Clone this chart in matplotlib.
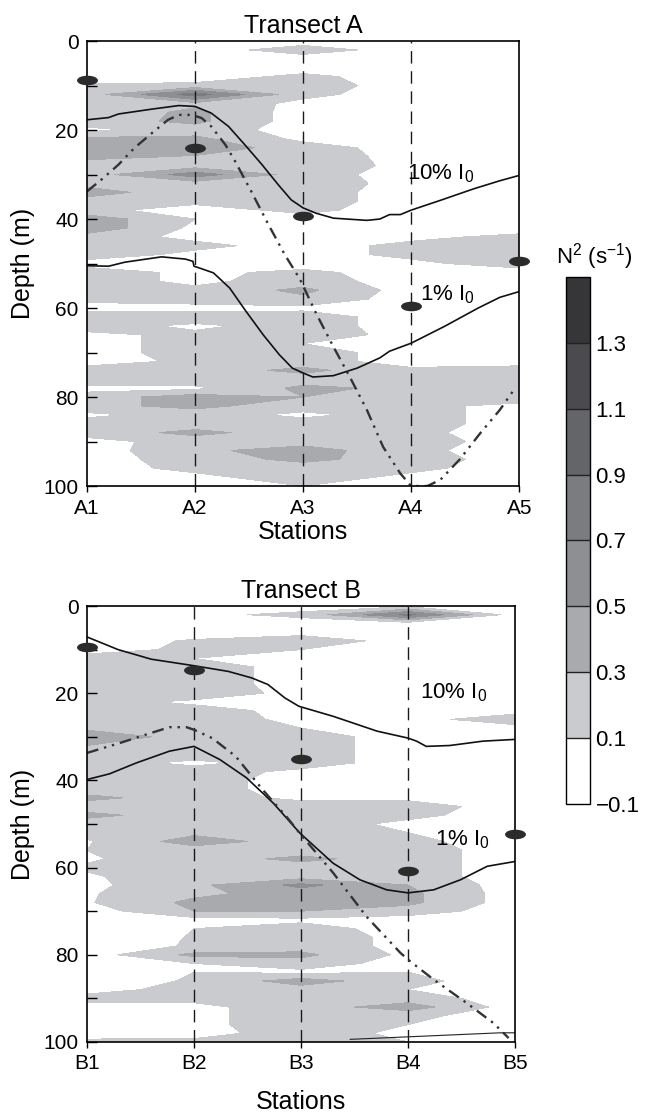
import numpy as np
import matplotlib
matplotlib.use('Agg')
import matplotlib.pyplot as plt
from matplotlib.path import Path
from matplotlib.transforms import Affine2D
from matplotlib.ticker import FuncFormatter

# ==========================================
# 全局配置
# ==========================================
plt.rcParams['font.family'] = ['Liberation Sans', 'DejaVu Sans']
plt.rcParams['mathtext.fontset'] = 'custom'
plt.rcParams['mathtext.rm'] = 'Liberation Sans'
plt.rcParams['mathtext.it'] = 'Liberation Sans:italic'
plt.rcParams['mathtext.bf'] = 'Liberation Sans:bold'

# ==========================================
# 数据
# ==========================================
stations = [1, 2, 3, 4, 5]
labels_a = ['A1', 'A2', 'A3', 'A4', 'A5']
labels_b = ['B1', 'B2', 'B3', 'B4', 'B5']
depth = np.arange(0, 101, 2)          # m, 0..100

# N2 (s-1) profiles at each station, depth 0..100 every 2 m
a1_n2 = [0, 0, 0, 0, 0, 0.12, 0.2, 0.22, 0.15, 0.2,
         0.05, 0.35, 0.4, 0.35, 0.2, 0.2, 0.22, 0.4, 0.2, 0.15,
         0.42, 0.45, 0.2, 0.15, 0.2, 0.02, 0.2, 0.2, 0.2, 0.15,
         0.02, 0.25, 0.2, 0.05, 0, 0, 0, 0.2, 0.25, 0.02,
         0.2, 0.25, 0.05, 0.2, 0.2, 0.02, 0, 0, 0.02, 0,
         0]
a2_n2 = [0, 0, 0, 0, 0, 0.15, 0.8, 0.25, 0.35, 0.35,
         0.2, 0.35, 0.42, 0.28, 0.2, 0.6, 0.2, 0.15, 0.15, 0.02,
         0.1, 0.05, 0.05, 0.15, 0.05, 0.02, 0.05, 0.05, 0.15, 0.2,
         0.02, 0.25, 0.05, 0.15, 0.2, 0.2, 0.15, 0.2, 0.25, 0.05,
         0.4, 0.35, 0.2, 0.2, 0.35, 0.2, 0.25, 0.2, 0.15, 0.05,
         0]
a3_n2 = [0, 0.2, 0, 0, 0.15, 0.2, 0.15, 0.05, 0, 0,
         0.02, 0.05, 0.2, 0.25, 0.2, 0.2, 0.25, 0.2, 0.2, 0.15,
         0.02, 0, 0, 0.02, 0.02, 0, 0.15, 0.2, 0.35, 0.25,
         0.05, 0.2, 0.2, 0.25, 0.1, 0.2, 0.2, 0.35, 0.2, 0.35,
         0.3, 0.2, 0.05, 0.2, 0.2, 0.2, 0.4, 0.35, 0.2, 0.2,
         0.1]
a4_n2 = [0, 0, 0, 0, 0, 0, 0, 0, 0, 0,
         0, 0, 0, 0, 0.05, 0, 0, 0, 0, 0,
         0, 0, 0.05, 0.15, 0.15, 0.05, 0, 0, 0, 0,
         0, 0, 0, 0, 0, 0, 0, 0.15, 0.2, 0.25,
         0.2, 0.15, 0.2, 0.2, 0.15, 0.2, 0.15, 0.2, 0.15, 0.05,
         0]
a5_n2 = [0, 0, 0, 0, 0, 0, 0, 0, 0, 0,
         0, 0, 0, 0, 0, 0, 0, 0, 0, 0,
         0, 0, 0.15, 0.25, 0.25, 0.2, 0, 0.02, 0, 0,
         0, 0, 0, 0, 0, 0, 0, 0.2, 0.25, 0.2,
         0.2, 0.05, 0, 0, 0, 0, 0, 0, 0, 0,
         0]

b1_n2 = [0, 0, 0, 0, 0, 0, 0.2, 0.15, 0.2, 0.2,
         0.25, 0.2, 0.2, 0.2, 0.25, 0.45, 0.3, 0.2, 0.2, 0.2,
         0.2, 0.2, 0.35, 0.2, 0.35, 0.2, 0.15, 0.08, 0.1, 0.08,
         0.12, 0.08, 0.05, 0.08, 0.08, 0, 0, 0, 0, 0,
         0, 0, 0, 0, 0, 0.2, 0, 0, 0, 0,
         0.15]
b2_n2 = [0, 0.05, 0, 0, 0.12, 0.15, 0.1, 0.2, 0.2, 0.2,
         0.25, 0.05, 0.2, 0.2, 0.15, 0.2, 0.2, 0.2, 0.05, 0.2,
         0.2, 0.2, 0.2, 0.2, 0.2, 0.2, 0.25, 0.4, 0.2, 0.2,
         0.2, 0.2, 0.25, 0.25, 0.35, 0.3, 0.02, 0.1, 0.11, 0.12,
         0.35, 0.1, 0.1, 0.12, 0.2, 0.15, 0.05, 0.05, 0.05, 0.02,
         0.15]
b3_n2 = [0, 0.15, 0, 0, 0.25, 0.1, 0, 0.02, 0.02, 0.02,
         0.02, 0.02, 0.02, 0.05, 0.1, 0.2, 0.2, 0.2, 0.2, 0.05,
         0, 0, 0.05, 0.2, 0.2, 0.2, 0.2, 0.2, 0.2, 0.35,
         0.2, 0.2, 0.55, 0.4, 0.35, 0.3, 0.05, 0.2, 0.2, 0.2,
         0.35, 0.2, 0.05, 0.4, 0.2, 0.2, 0.2, 0.2, 0.2, 0.2,
         0.15]
b4_n2 = [0.05, 0.75, 0, 0, 0, 0, 0, 0, 0, 0,
         0, 0, 0, 0, 0, 0, 0, 0, 0, 0,
         0, 0, 0.05, 0.2, 0.15, 0.05, 0.1, 0.15, 0.2, 0.2,
         0.2, 0.2, 0.3, 0.35, 0.35, 0.2, 0, 0, 0.05, 0.05,
         0.05, 0.02, 0.1, 0.15, 0.1, 0.2, 0.4, 0.15, 0.1, 0.05,
         0.1]
b5_n2 = [0, 0, 0, 0, 0, 0, 0, 0, 0, 0,
         0, 0, 0, 0.25, 0, 0, 0, 0, 0, 0,
         0, 0, 0, 0, 0, 0, 0, 0, 0, 0,
         0, 0, 0, 0, 0, 0, 0, 0, 0, 0,
         0, 0, 0, 0, 0, 0, 0, 0, 0, 0,
         0]

# 10% I0 and 1% I0 light depths, plus the dash-dot line
i10_a_x = [1.0, 1.2, 1.29, 1.6, 1.85, 2.0, 2.15, 2.31, 2.46, 2.62, 2.77, 2.89, 3.0,
           3.12, 3.28, 3.59, 3.71, 3.8, 3.9, 4.0, 4.27, 4.58, 4.82, 5.0]
i10_a_d = [17.7, 17.2, 16.4, 15.3, 14.5, 14.7, 16.2, 19.2, 23.3, 27.8, 32.3, 35.7, 37.5,
           38.7, 39.8, 40.3, 40.0, 39.0, 39.0, 38.0, 35.8, 33.2, 31.4, 30.2]
i1_a_x = [1.0, 1.2, 1.35, 1.69, 1.91, 1.98, 1.99, 2.04, 2.17, 2.32, 2.47, 2.63, 2.78, 2.9,
          3.0, 3.09, 3.28, 3.5, 3.71, 3.8, 4.0, 4.31, 4.62, 4.82, 5.0]
i1_a_d = [50.5, 50.6, 49.7, 48.5, 49.0, 49.5, 50.6, 51.0, 52.1, 55.5, 60.7, 66.0, 70.5, 73.5,
          74.6, 75.5, 75.2, 73.5, 71.2, 69.7, 67.9, 64.1, 60.0, 57.6, 56.3]
dd_a_x = [1.0, 1.15, 1.29, 1.44, 1.6, 1.75, 1.85, 1.97, 2.06, 2.15, 2.28, 2.37, 2.52, 2.68,
          2.83, 2.97, 3.12, 3.28, 3.43, 3.59, 3.74, 3.9, 4.0, 4.15, 4.27, 4.45, 4.64, 4.82, 4.95]
dd_a_d = [33.8, 30.8, 27.8, 24.0, 20.7, 17.7, 16.6, 16.6, 17.3, 19.2, 23.3, 27.0, 33.8, 41.3,
          48.0, 53.5, 61.2, 68.7, 75.4, 82.9, 91.2, 97.2, 100, 100, 98.6, 94.0, 88.1, 82.9, 78.4]

i10_b_x = [1.0, 1.29, 1.6, 2.0, 2.32, 2.54, 2.69, 2.85, 2.98, 3.3, 3.71, 4.0, 4.08, 4.17,
           4.39, 4.7, 5.0]
i10_b_d = [7.1, 10.0, 12.2, 13.7, 15.0, 16.5, 18.0, 21.1, 23.0, 25.3, 28.7, 30.3, 31.0, 32.2,
           32.0, 31.0, 30.6]
i1_b_x = [1.0, 1.21, 1.46, 1.77, 2.0, 2.24, 2.49, 2.74, 2.99, 3.3, 3.55, 3.8, 4.0, 4.24,
          4.49, 4.74, 5.0]
i1_b_d = [39.8, 38.5, 36.0, 33.3, 32.2, 35.2, 39.4, 45.2, 52.1, 59.0, 62.8, 65.1, 65.8, 65.1,
          62.8, 59.7, 58.6]
dd_b_x = [1.0, 1.31, 1.55, 1.77, 1.93, 2.0, 2.17, 2.39, 2.64, 2.86, 3.0, 3.3, 3.61, 3.93,
          4.02, 4.24, 4.55, 4.8, 4.94]
dd_b_d = [33.7, 31.4, 29.5, 27.8, 27.8, 28.4, 30.3, 34.5, 42.1, 48.2, 52.5, 61.2, 71.2, 79.6,
          81.5, 85.7, 91.1, 95.7, 99.1]
edge_b_x = [3.46, 4.86, 5.0]
edge_b_d = [99.4, 97.9, 97.9]

# sampling depths (ellipse markers)
sample_a = [8.7, 24.0, 39.3, 59.5, 49.4]
sample_b = [9.5, 14.6, 35.0, 60.7, 52.4]

levels = [-0.1, 0.1, 0.3, 0.5, 0.7, 0.9, 1.1, 1.3, 1.5]
greys = ['#ffffff', '#cacbce', '#a9aaad', '#8e8f92', '#7b7c7f',
         '#646568', '#4b4b4f', '#363537']


def draw_transect(ax, profiles, xlabels, title, i10, i1, dd, samples, txt10, txt1):
    field = np.column_stack(profiles)
    cs = ax.contourf(stations, depth, field, levels=levels, colors=greys, zorder=1)

    for s in stations[1:4]:
        ax.axvline(s, color='#1a1a1a', lw=1.0, dashes=(9, 5.5), zorder=2)

    ax.plot(i10[0], i10[1], color='#111111', lw=1.2, zorder=3)
    ax.plot(i1[0], i1[1], color='#111111', lw=1.2, zorder=3)
    ax.plot(dd[0], dd[1], color='#333333', lw=1.7, dashes=(5, 2.5, 1, 2.5, 1, 2.5), zorder=3)

    ellipse = Path.unit_circle().transformed(Affine2D().scale(1.0, 0.42))
    ax.plot(stations, samples, linestyle='none', marker=ellipse, markersize=14,
            color='#2b2b2b', clip_on=False, zorder=6)

    ax.text(txt10[0], txt10[1], r'10% I$_0$', fontsize=16, va='center', ha='left', zorder=5)
    ax.text(txt1[0], txt1[1], r'1% I$_0$', fontsize=16, va='center', ha='left', zorder=5)

    ax.set_xlim(1, 5)
    ax.set_ylim(100, 0)
    ax.set_xticks(stations)
    ax.set_xticklabels(xlabels)
    ax.set_yticks([0, 20, 40, 60, 80, 100])
    ax.set_yticks([10, 30, 50, 70, 90], minor=True)
    ax.tick_params(axis='y', which='both', direction='in', length=7, width=1,
                   labelsize=15, pad=6)
    ax.tick_params(axis='x', direction='out', length=4, width=1, labelsize=15, pad=5)
    for sp in ax.spines.values():
        sp.set_linewidth(1.2)
        sp.set_zorder(4)
    ax.set_title(title, fontsize=18, pad=6)
    ax.set_ylabel('Depth (m)', fontsize=18, labelpad=6)
    return cs


fig = plt.figure(figsize=(6.48, 11.15), dpi=100)
ax_a = fig.add_axes([0.1343, 0.5641, 0.667, 0.3991])
ax_b = fig.add_axes([0.1343, 0.0655, 0.6605, 0.391])
cax = fig.add_axes([0.8735, 0.2789, 0.037, 0.4727])

cs = draw_transect(ax_a, [a1_n2, a2_n2, a3_n2, a4_n2, a5_n2], labels_a, 'Transect A',
                   (i10_a_x, i10_a_d), (i1_a_x, i1_a_d), (dd_a_x, dd_a_d), sample_a,
                   (3.96, 29.8), (4.08, 56.9))
ax_a.set_xlabel('Stations', fontsize=18, labelpad=2)

draw_transect(ax_b, [b1_n2, b2_n2, b3_n2, b4_n2, b5_n2], labels_b, 'Transect B',
              (i10_b_x, i10_b_d), (i1_b_x, i1_b_d), (dd_b_x, dd_b_d), sample_b,
              (4.11, 20.0), (4.25, 53.7))
ax_b.plot(edge_b_x, edge_b_d, color='#222222', lw=0.8, zorder=3)
ax_b.set_xlabel('Stations', fontsize=18, labelpad=12)

cb = fig.colorbar(cs, cax=cax, ticks=levels[:-1], drawedges=True)
cb.ax.tick_params(length=0, labelsize=16, pad=4)
cb.ax.yaxis.set_major_formatter(FuncFormatter(lambda v, p: f'{v:.1f}'.replace('-', '\u2212')))
cb.outline.set_linewidth(1.0)
cb.dividers.set_linewidth(1.0)
cb.dividers.set_color('#222222')
fig.text(594 / 648, 1 - 257 / 1115, r'N$^2$ (s$^{-1}$)', fontsize=16, ha='center', va='center')

fig.savefig('out.png', dpi=100)
